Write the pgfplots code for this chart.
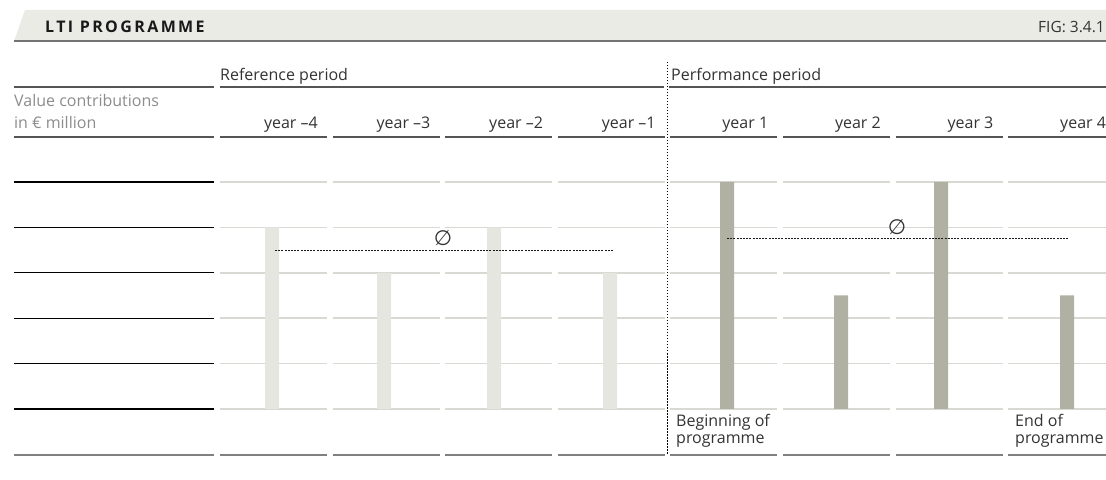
\documentclass[border=0pt]{standalone}
\usepackage{pgfplots}
\pgfplotsset{compat=1.18}
\usepackage{fontspec}
\setmainfont{Open Sans}
\newfontfamily\dejavu{DejaVu Sans}
\newfontfamily\titlefont{Open Sans}[LetterSpace=15]
\definecolor{band}{HTML}{EBEBE6}
\definecolor{barlight}{HTML}{E6E6E1}
\definecolor{bardark}{HTML}{B0B0A3}
\definecolor{gridc}{HTML}{D9D9D3}
\definecolor{rulec}{HTML}{555555}
\definecolor{botc}{HTML}{808080}
\definecolor{txt}{HTML}{333333}
\definecolor{lbl}{HTML}{8C8C8C}
\def\py#1{(409-(#1))/45.4}
\newcommand\fs{\fontsize{16}{19}\selectfont}
\begin{document}
\begin{tikzpicture}
\begin{axis}[
  name=ax,
  scale only axis,
  width=1106pt, height=480pt,
  xmin=0, xmax=1106,
  ymin=-1.563877, ymax=9.008811,
  hide axis,
  clip=false,
]
% title band
\fill[band] (axis cs:14,{\py{41}}) -- (axis cs:25,{\py{10}}) -- (axis cs:1106,{\py{10}}) -- (axis cs:1106,{\py{41}}) -- cycle;
\draw[botc!110, line width=2pt] (axis cs:14,{\py{41}}) -- (axis cs:1106,{\py{41}});
\node[anchor=base west, inner sep=0pt, text=black!90] at (axis cs:45,{\py{33}}) {\titlefont\bfseries\fontsize{16}{18}\selectfont LTI PROGRAMME};
\node[anchor=base east, inner sep=0pt, text=txt] at (axis cs:1105,{\py{33}}) {\fontsize{15.5}{18}\selectfont FIG: 3.4.1};
% header rows
\draw[rulec, line width=1.3pt] (axis cs:14,{\py{87}}) -- (axis cs:214,{\py{87}});
\draw[rulec, line width=1.3pt] (axis cs:220,{\py{87}}) -- (axis cs:664,{\py{87}});
\draw[rulec, line width=1.3pt] (axis cs:669,{\py{87}}) -- (axis cs:1106,{\py{87}});
\node[anchor=base west, inner sep=0pt, text=txt] at (axis cs:220,{\py{81}}) {\fs Reference period};
\node[anchor=base west, inner sep=0pt, text=txt] at (axis cs:671,{\py{81}}) {\fs Performance period};
\node[anchor=base west, inner sep=0pt, text=lbl] at (axis cs:14,{\py{107}}) {\fs Value contributions};
\node[anchor=base west, inner sep=0pt, text=lbl] at (axis cs:14,{\py{129}}) {\fs in € million};
% left column rules
\draw[rulec, line width=1.5pt] (axis cs:14,{\py{137}}) -- (axis cs:214,{\py{137}});
\pgfplotsinvokeforeach{0,1,2,3,4,5}{
  \draw[black, line width=1.2pt] (axis cs:14,#1) -- (axis cs:214,#1);
}
\draw[botc, line width=2.2pt] (axis cs:14,{\py{455}}) -- (axis cs:214,{\py{455}});
% column rules
\pgfplotsinvokeforeach{220,332.6,445.2,557.8,670.4,783,895.6,1008.2}{
  \draw[rulec, line width=1.5pt] (axis cs:#1,{\py{137}}) -- (axis cs:{#1+107},{\py{137}});
  \draw[gridc, line width=1.5pt] (axis cs:#1,0) -- (axis cs:{#1+107},0);
  \draw[gridc, line width=1.5pt] (axis cs:#1,1) -- (axis cs:{#1+107},1);
  \draw[gridc, line width=1.5pt] (axis cs:#1,2) -- (axis cs:{#1+107},2);
  \draw[gridc, line width=1.5pt] (axis cs:#1,3) -- (axis cs:{#1+107},3);
  \draw[gridc, line width=1.5pt] (axis cs:#1,4) -- (axis cs:{#1+107},4);
  \draw[gridc, line width=1.5pt] (axis cs:#1,5) -- (axis cs:{#1+107},5);
  \draw[botc, line width=2.2pt] (axis cs:#1,{\py{455}}) -- (axis cs:{#1+107},{\py{455}});
}
% year labels
\node[anchor=base east, inner sep=0pt, text=txt] at (axis cs:318,{\py{129}}) {\fs year –4};
\node[anchor=base east, inner sep=0pt, text=txt] at (axis cs:430.6,{\py{129}}) {\fs year –3};
\node[anchor=base east, inner sep=0pt, text=txt] at (axis cs:543.2,{\py{129}}) {\fs year –2};
\node[anchor=base east, inner sep=0pt, text=txt] at (axis cs:655.8,{\py{129}}) {\fs year –1};
\node[anchor=base east, inner sep=0pt, text=txt] at (axis cs:768.4,{\py{129}}) {\fs year 1};
\node[anchor=base east, inner sep=0pt, text=txt] at (axis cs:881,{\py{129}}) {\fs year 2};
\node[anchor=base east, inner sep=0pt, text=txt] at (axis cs:993.6,{\py{129}}) {\fs year 3};
\node[anchor=base east, inner sep=0pt, text=txt] at (axis cs:1106.2,{\py{129}}) {\fs year 4};
% bars
\addplot[ybar, bar width=14, bar shift=0pt, fill=barlight, draw=none]
  coordinates {(272,4) (384,3) (494,4) (610,3)};
\addplot[ybar, bar width=14, bar shift=0pt, fill=bardark, draw=none]
  coordinates {(727,5) (841,2.5) (941,5) (1067,2.5)};
% averages
\addplot[black!90, line width=1pt, dash pattern=on 2pt off 1.2pt] coordinates {(275,3.5) (614,3.5)};
\addplot[black!90, line width=1pt, dash pattern=on 2pt off 1.2pt] coordinates {(727,3.75) (1068,3.75)};
\node[text=txt, inner sep=0pt] at (axis cs:443,{\py{238}}) {\dejavu\fontsize{21}{22}\selectfont ∅};
\node[text=txt, inner sep=0pt] at (axis cs:897,{\py{227}}) {\dejavu\fontsize{21}{22}\selectfont ∅};
% period divider
\draw[black, line width=0.9pt, dash pattern=on 1.5pt off 1.5pt] (axis cs:667,{\py{62}}) -- (axis cs:667,{\py{455}});
% programme notes
\node[anchor=base west, inner sep=0pt, text=txt] at (axis cs:676,{\py{427}}) {\fs Beginning of};
\node[anchor=base west, inner sep=0pt, text=txt] at (axis cs:676,{\py{444}}) {\fs programme};
\node[anchor=base west, inner sep=0pt, text=txt] at (axis cs:1015,{\py{427}}) {\fs End of};
\node[anchor=base west, inner sep=0pt, text=txt] at (axis cs:1015,{\py{444}}) {\fs programme};
\end{axis}
\pgfresetboundingbox
\path (ax.south west) rectangle (ax.north east);
\end{tikzpicture}
\end{document}
